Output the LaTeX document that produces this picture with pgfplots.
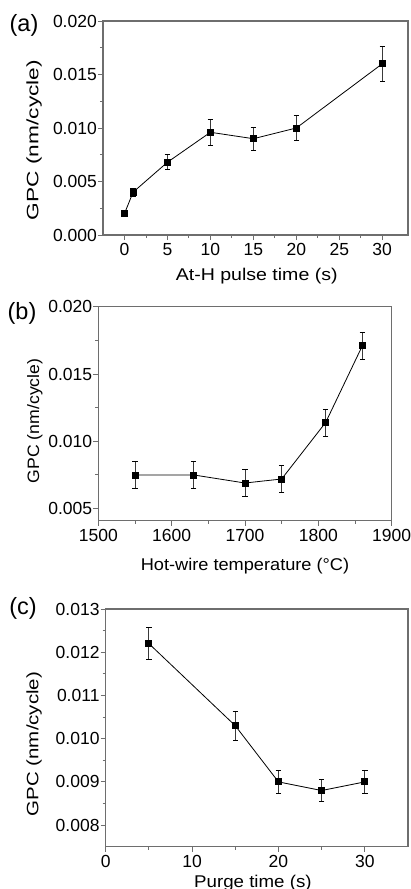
\documentclass[border=0pt]{standalone}
\usepackage{fontspec}
\setmainfont{Liberation Sans}
\usepackage{graphicx}
\usepackage{pgfplots}
\pgfplotsset{compat=1.18}
\definecolor{framegray}{HTML}{6E6E6E}
\definecolor{errgray}{HTML}{3A3A3A}

\pgfplotstableread{
x y e
0 0.0020 0.0000
1 0.0040 0.0004
5 0.0068 0.0007
10 0.0096 0.0012
15 0.0090 0.0011
20 0.0100 0.0012
30 0.0160 0.0016
}\dataA

\pgfplotstableread{
x y e
1550 0.0075 0.0010
1630 0.0075 0.0010
1700 0.0069 0.0010
1750 0.0072 0.0010
1810 0.0114 0.0010
1860 0.0171 0.0010
}\dataB

\pgfplotstableread{
x y e
5 0.01220 0.00037
15 0.01030 0.00033
20 0.00900 0.00027
25 0.00880 0.00026
30 0.00900 0.00027
}\dataC

\pgfplotsset{
  myaxis/.style={
    scale only axis,
    anchor=north west,
    axis line style={framegray, line width=1.1pt},
    tick style={framegray, line width=0.9pt},
    tick align=outside,
    tick pos=left,
    major tick length=5pt,
    minor tick length=3pt,
    /pgf/number format/assume math mode=true,
    tick label style={font=\fontsize{17.5}{20}\selectfont},
    label style={font=\fontsize{17}{20}\selectfont},
    scaled y ticks=false,
    scaled x ticks=false,
    yticklabel style={inner sep=1pt, /pgf/number format/.cd, fixed, fixed zerofill, precision=3, /tikz/.cd},
    xticklabel style={/pgf/number format/.cd, fixed, 1000 sep={}, /tikz/.cd},
  },
  myplot/.style={
    black, line width=0.8pt, mark=square*, mark size=3pt, mark options={solid, black},
    error bars/.cd, y dir=both, y explicit,
    error bar style={line width=0.8pt, errgray},
    error mark options={rotate=90, mark size=2.7pt, line width=0.8pt, black},
  },
}

\begin{document}
\begin{tikzpicture}
\useasboundingbox (0,0) rectangle (410pt,-889pt);

% (a)
\begin{axis}[myaxis,
  at={(103pt,-21pt)}, width=305pt, height=214pt,
  xmin=-2.5, xmax=33, ymin=0, ymax=0.02,
  xtick={0,5,10,15,20,25,30}, minor x tick num=1,
  ytick={0,0.005,0.010,0.015,0.020}, minor y tick num=1,
  xlabel={\scalebox{1.15}[1]{At-H pulse time (s)}},
  ylabel={\scalebox{1.375}[1]{GPC (nm/cycle)}},
  xlabel style={at={(axis description cs:0.504,-0.2136)}, anchor=base},
  ylabel style={font=\fontsize{16.5}{20}\selectfont, at={(axis description cs:-0.226,0.444)}, anchor=center},
]
\addplot[myplot] table[x=x, y=y, y error=e] {\dataA};
\end{axis}

% (b)
\begin{axis}[myaxis,
  at={(98.3pt,-306.7pt)}, width=293.4pt, height=214pt,
  xmin=1500, xmax=1900, ymin=0.0041, ymax=0.02,
  xtick={1500,1600,1700,1800,1900}, minor x tick num=1,
  ytick={0.005,0.010,0.015,0.020}, minor y tick num=1,
  xlabel={\scalebox{1.07}[1]{Hot-wire temperature (°C)}},
  ylabel={\scalebox{1.07}[1]{GPC (nm/cycle)}},
  xlabel style={at={(axis description cs:0.5,-0.235)}, anchor=base},
  ylabel style={font=\fontsize{16.5}{20}\selectfont, at={(axis description cs:-0.216,0.466)}, anchor=center},
]
\addplot[myplot] table[x=x, y=y, y error=e] {\dataB};
\end{axis}

% (c)
\begin{axis}[myaxis,
  at={(105.7pt,-609pt)}, width=302.3pt, height=237.7pt,
  xmin=0, xmax=35, ymin=0.0075, ymax=0.013,
  xtick={0,10,20,30}, minor x tick num=1,
  ytick={0.008,0.009,0.010,0.011,0.012,0.013}, minor y tick num=1,
  xlabel={\scalebox{1.10}[1]{Purge time (s)}},
  ylabel={\scalebox{1.24}[1]{GPC (nm/cycle)}},
  xlabel style={at={(axis description cs:0.487,-0.17)}, anchor=base},
  ylabel style={font=\fontsize{16.5}{20}\selectfont, at={(axis description cs:-0.237,0.432)}, anchor=center},
]
\addplot[myplot] table[x=x, y=y, y error=e] {\dataC};
\end{axis}

\node[anchor=base, font=\fontsize{23.5}{26}\selectfont] at (24pt,-31pt) {(a)};
\node[anchor=base, font=\fontsize{23.5}{26}\selectfont] at (22pt,-319pt) {(b)};
\node[anchor=base, font=\fontsize{23.5}{26}\selectfont] at (23pt,-614pt) {(c)};
\end{tikzpicture}
\end{document}
